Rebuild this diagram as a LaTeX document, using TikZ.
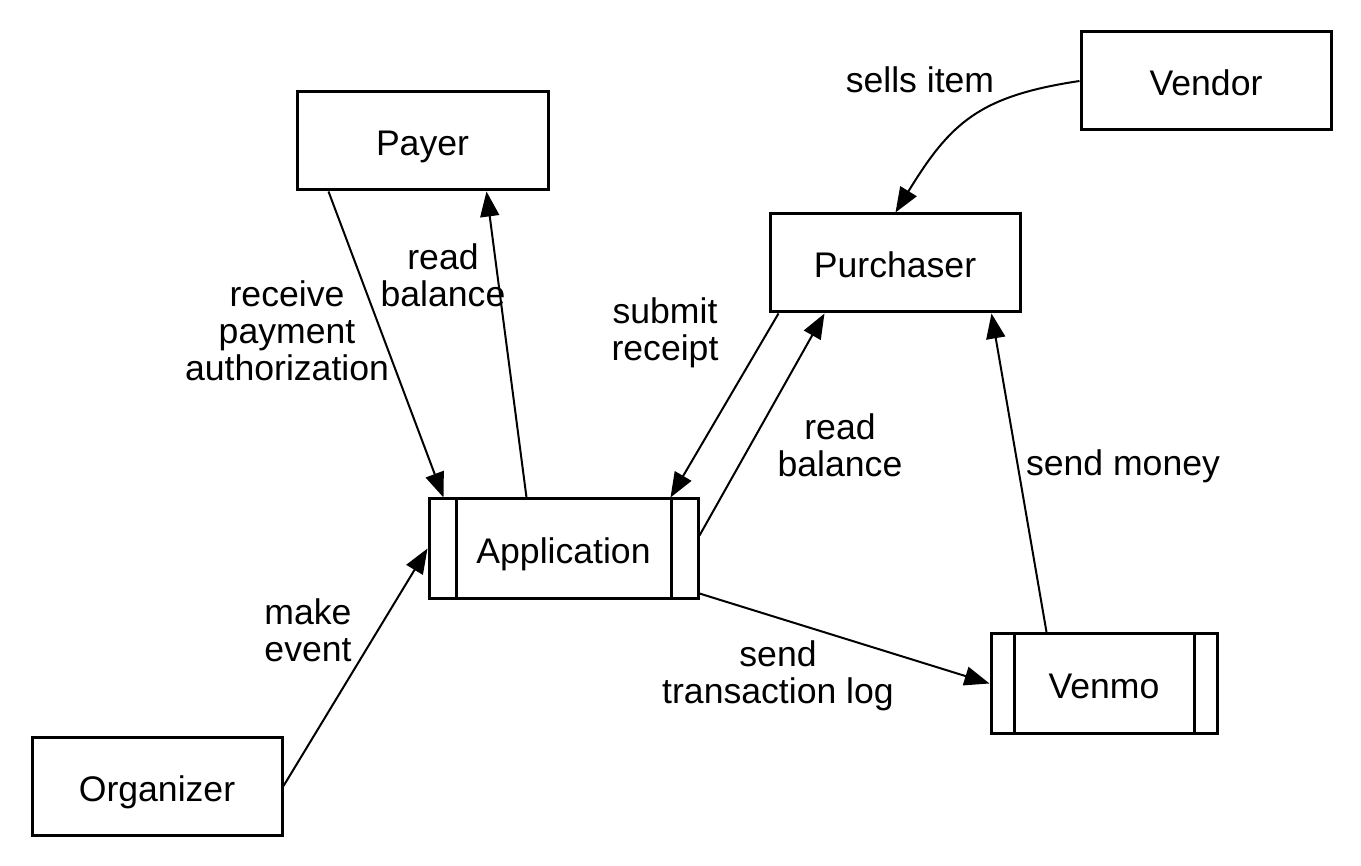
\documentclass[tikz,border=0pt]{standalone}
\usepackage{fontspec}
\setmainfont{Liberation Sans}
\usetikzlibrary{arrows.meta}
\newcommand{\diagfont}{\fontsize{35.6pt}{37pt}\selectfont}
\begin{document}
\begin{tikzpicture}[x=1pt,y=-1pt,
  box/.style={draw,line width=3pt,minimum width=250pt,minimum height=98pt,inner sep=0pt,outer sep=1.5pt,text height=30pt,text depth=0pt,font=\diagfont},
  proc/.style={box,path picture={
    \draw[line width=3pt] ([xshift=#1]path picture bounding box.north west) -- ([xshift=#1]path picture bounding box.south west);
    \draw[line width=3pt] ([xshift=-#1]path picture bounding box.north east) -- ([xshift=-#1]path picture bounding box.south east);}},
  conn/.style={line width=2pt,-{Triangle[length=25pt,width=19pt]}},
  lbl/.style={align=center,font=\diagfont,inner sep=0pt}]
\useasboundingbox (0,0) rectangle (1361,866);
\fill[white] (0,0) rectangle (1361,866);

\node[box,minimum width=251pt] (payer) at (422.5,141) {Payer};
\node[box] (vendor) at (1206,81) {Vendor};
\node[box] (purchaser) at (895,263) {Purchaser};
\node[proc=27pt,minimum width=269pt,minimum height=99pt] (app) at (563.5,548.5) {Application};
\node[proc=23pt,minimum width=226pt,minimum height=100pt] (venmo) at (1104,683.5) {Venmo};
\node[box] (organizer) at (157,786) {Organizer};

\draw[conn] ([xshift=33pt]payer.south west) -- ([xshift=16pt]app.north west);
\draw[conn] ([xshift=99pt]app.north west) -- ([xshift=191pt]payer.south west);
\draw[conn] ([xshift=10pt]purchaser.south west) -- ([xshift=243pt]app.north west);
\draw[conn] ([yshift=-38pt]app.north east) -- ([xshift=56pt]purchaser.south west);
\draw[conn] ([xshift=57pt]venmo.north west) -- ([xshift=-30pt]purchaser.south east);
\draw[conn] ([yshift=6pt]app.south east) -- (venmo.west);
\draw[conn] (organizer.east) -- (app.west);
\draw[conn] (vendor.west) .. controls +(-100,15) and +(55,-90) .. ([xshift=127pt]purchaser.north west);

\node[lbl] (l1) at (287,331) {receive\\payment\\authorization};
\node[lbl] (l2) at (443,275) {read\\balance};
\node[lbl] (l3) at (665,333) {submit\\receipt};
\node[lbl] (l4) at (840,445) {read\\balance};
\node[lbl] (l5) at (1123,466) {send money};
\node[lbl] (l6) at (778,676) {send\\transaction log};
\node[lbl] (l7) at (308,630) {make\\event};
\node[lbl] (l8) at (920,80) {sells item};
\end{tikzpicture}
\end{document}
